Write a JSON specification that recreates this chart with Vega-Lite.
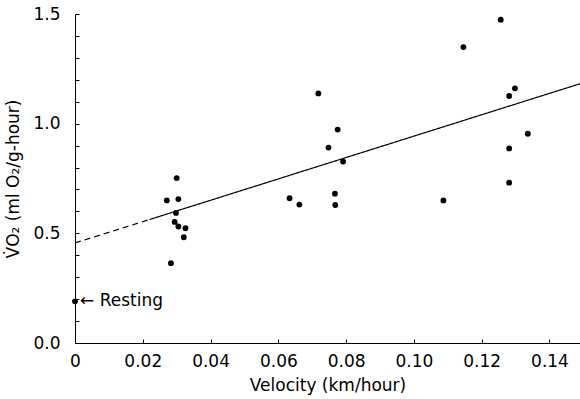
{
  "$schema": "https://vega.github.io/schema/vega-lite/v6.json",
  "width": 505,
  "height": 329,
  "autosize": {"type": "none"},
  "padding": {"left": 75, "top": 14, "right": 0, "bottom": 56},
  "background": "white",
  "config": {
    "view": {"stroke": null},
    "font": "DejaVu Sans",
    "axis": {
      "grid": false,
      "domainColor": "black",
      "tickColor": "black",
      "labelColor": "black",
      "titleColor": "black",
      "labelFont": "DejaVu Sans",
      "titleFont": "DejaVu Sans",
      "labelFontSize": 17,
      "titleFontSize": 17,
      "titleFontWeight": "normal",
      "domainWidth": 1,
      "tickWidth": 1
    }
  },
  "datasets": {
    "points": [
      {"v": 0.0, "o": 0.19},
      {"v": 0.0300, "o": 0.752},
      {"v": 0.0271, "o": 0.650},
      {"v": 0.0305, "o": 0.656},
      {"v": 0.0298, "o": 0.593},
      {"v": 0.0294, "o": 0.552},
      {"v": 0.0305, "o": 0.531},
      {"v": 0.0326, "o": 0.523},
      {"v": 0.0321, "o": 0.482},
      {"v": 0.0283, "o": 0.364},
      {"v": 0.0718, "o": 1.138},
      {"v": 0.0775, "o": 0.973},
      {"v": 0.0748, "o": 0.891},
      {"v": 0.0791, "o": 0.827},
      {"v": 0.0633, "o": 0.660},
      {"v": 0.0662, "o": 0.631},
      {"v": 0.0767, "o": 0.681},
      {"v": 0.0768, "o": 0.629},
      {"v": 0.1256, "o": 1.474},
      {"v": 0.1146, "o": 1.349},
      {"v": 0.1298, "o": 1.161},
      {"v": 0.1281, "o": 1.126},
      {"v": 0.1336, "o": 0.954},
      {"v": 0.1281, "o": 0.887},
      {"v": 0.1281, "o": 0.731},
      {"v": 0.1087, "o": 0.650}
    ],
    "fit": [
      {"seg": "dashed", "v": 0.0, "o": 0.456},
      {"seg": "dashed", "v": 0.022, "o": 0.563},
      {"seg": "solid", "v": 0.022, "o": 0.563},
      {"seg": "solid", "v": 0.149, "o": 1.182}
    ],
    "note": [
      {"v": 0.0, "o": 0.19, "label": "← Resting"}
    ]
  },
  "resolve": {"axis": {"y": "independent"}},
  "layer": [
    {
      "data": {"name": "fit"},
      "mark": {"type": "line", "color": "black", "strokeWidth": 1.2, "clip": true},
      "encoding": {
        "x": {
          "field": "v", "type": "quantitative",
          "scale": {"domain": [0, 0.149], "nice": false, "zero": true},
          "axis": {
            "title": "Velocity (km/hour)",
            "values": [0, 0.01, 0.02, 0.03, 0.04, 0.05, 0.06, 0.07, 0.08, 0.09, 0.10, 0.11, 0.12, 0.13, 0.14],
            "labelExpr": "round(datum.value*100) % 2 == 1 ? '' : (datum.value == 0 ? '0' : format(datum.value, '.2f'))",
            "labelOverlap": false,
            "tickSize": -4,
            "labelPadding": 14,
            "titlePadding": 8,
            "labelFlush": false
          }
        },
        "y": {
          "field": "o", "type": "quantitative",
          "scale": {"domain": [0, 1.5], "nice": false},
          "axis": {
            "orient": "left",
            "title": "V̇O₂ (ml O₂/g-hour)",
            "values": [0, 0.5, 1.0, 1.5],
            "format": ".1f",
            "labelOverlap": false,
            "tickSize": -4,
            "labelPadding": 19,
            "titlePadding": 10,
            "labelFlush": false
          }
        },
        "detail": {"field": "seg"},
        "strokeDash": {
          "field": "seg", "type": "nominal",
          "scale": {"domain": ["dashed", "solid"], "range": [[6, 4], [1, 0]]},
          "legend": null
        }
      }
    },
    {
      "data": {"name": "points"},
      "mark": {"type": "circle", "color": "black", "opacity": 1, "size": 34},
      "encoding": {
        "x": {"field": "v", "type": "quantitative"},
        "y": {
          "field": "o", "type": "quantitative",
          "axis": {
            "orient": "left",
            "title": null,
            "labels": false,
            "domain": false,
            "values": [0.1, 0.2, 0.3, 0.4, 0.6, 0.7, 0.8, 0.9, 1.1, 1.2, 1.3, 1.4],
            "tickSize": -4
          }
        }
      }
    },
    {
      "data": {"name": "note"},
      "mark": {"type": "text", "align": "left", "baseline": "middle", "dx": 5, "fontSize": 17, "font": "DejaVu Sans", "color": "black"},
      "encoding": {
        "x": {"field": "v", "type": "quantitative"},
        "y": {"field": "o", "type": "quantitative", "axis": null},
        "text": {"field": "label"}
      }
    }
  ]
}
